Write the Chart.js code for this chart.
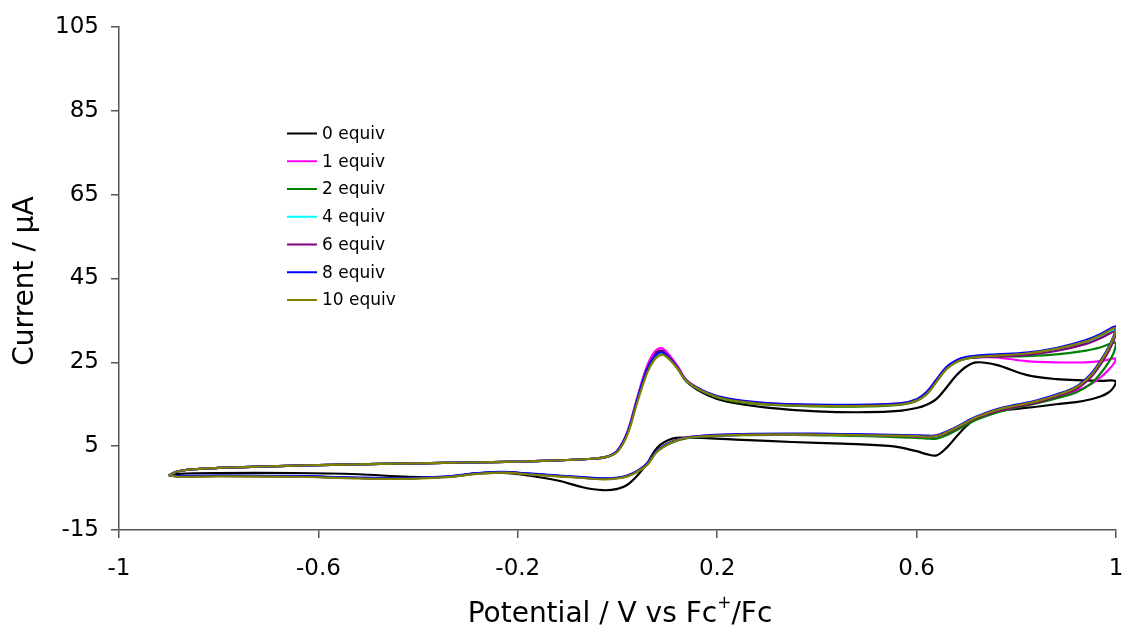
<!DOCTYPE html>
<html>
<head>
<meta charset="utf-8">
<script src="https://cdn.jsdelivr.net/npm/chart.js@4.4.0/dist/chart.umd.min.js"></script>
<style>
html,body{margin:0;padding:0;background:#fff;}
#wrap{width:1123px;height:635px;position:relative;}
</style>
</head>
<body>
<div id="wrap"><canvas id="c" width="1123" height="635"></canvas></div>
<script>
// ---- DATA ----
const seriesLabels = ['0 equiv', '1 equiv', '2 equiv', '4 equiv', '6 equiv', '8 equiv', '10 equiv'];
const seriesColors = ['#000000', '#FF00FF', '#008000', '#00FFFF', '#800080', '#0000FF', '#808000'];

const xTickValues = [-1, -0.6, -0.2, 0.2, 0.6, 1];
const yTickValues = [-15, 5, 25, 45, 65, 85, 105];

// potential (V vs Fc+/Fc): forward scan -0.9 -> 1.0, then reverse 1.0 -> -0.9
const potential = [
  -0.9, -0.885, -0.86, -0.8, -0.7, -0.55, -0.4, -0.3, -0.2, -0.1, -0.05, -0.02, 0.0, 0.02, 0.04, 0.06, 0.075, 0.088, 0.1, 0.12,
  0.14, 0.18, 0.22, 0.3, 0.4, 0.5, 0.57, 0.6, 0.62, 0.64, 0.66, 0.68, 0.7, 0.72, 0.76, 0.82, 0.88, 0.94, 0.97, 1.0,
  0.995, 0.985, 0.97, 0.95, 0.92, 0.88, 0.84, 0.8, 0.76, 0.72, 0.7, 0.68, 0.66, 0.64, 0.62, 0.6, 0.55, 0.45, 0.35, 0.25,
  0.18, 0.14, 0.11, 0.08, 0.06, 0.04, 0.02, 0.0, -0.03, -0.07, -0.12, -0.18, -0.23, -0.28, -0.34, -0.42, -0.52, -0.65, -0.8, -0.88, -0.9
];

const current0 = [
  -2.0, -1.1, -0.6, -0.2, 0.2, 0.6, 0.9, 1.1, 1.3, 1.7, 2.0, 2.5, 3.9, 8.3, 16.5, 24.0, 27.0, 27.8, 26.8, 23.8,
  20.2, 17.2, 15.6, 14.2, 13.3, 13.1, 13.5, 14.1, 14.9, 16.3, 19.0, 21.9, 24.0, 25.0, 24.4, 22.0, 21.0, 20.7, 20.6, 20.5,
  19.0, 17.8, 16.9, 16.2, 15.5, 15.0, 14.4, 13.9, 13.2, 11.6, 9.8, 7.3, 4.6, 2.8, 3.1, 3.8, 5.0, 5.6, 6.0, 6.5,
  6.9, 7.0, 6.8, 4.7, 1.0, -2.0, -4.2, -5.2, -5.5, -4.8, -3.2, -2.0, -1.4, -1.5, -2.3, -2.3, -1.7, -1.4, -1.4, -1.6, -2.0
];
const current1 = [
  -2.0, -1.1, -0.6, -0.2, 0.2, 0.6, 0.9, 1.1, 1.3, 1.7, 2.0, 2.5, 4.0, 8.5, 16.8, 24.3, 27.6, 28.4, 27.3, 24.2,
  20.6, 17.7, 16.3, 15.2, 14.8, 14.8, 15.2, 16.1, 17.8, 20.8, 23.8, 25.3, 26.0, 26.2, 26.2, 25.3, 25.0, 25.0, 25.3, 25.9,
  24.6, 23.2, 21.5, 19.8, 18.2, 16.9, 15.6, 14.6, 13.5, 11.8, 10.6, 9.3, 8.2, 7.4, 7.3, 7.4, 7.6, 7.8, 7.9, 7.8,
  7.5, 7.1, 6.1, 4.0, 0.9, -0.9, -2.0, -2.6, -2.8, -2.5, -2.1, -1.6, -1.2, -1.5, -2.3, -2.7, -2.6, -2.2, -2.1, -2.2, -2.0
];
const current2 = [
  -2.0, -1.1, -0.6, -0.2, 0.2, 0.6, 0.9, 1.1, 1.3, 1.7, 2.0, 2.5, 3.8, 8.0, 16.0, 23.2, 26.1, 27.0, 26.2, 23.6,
  20.3, 17.5, 16.0, 14.9, 14.5, 14.5, 14.9, 15.8, 17.4, 20.4, 23.5, 25.1, 25.9, 26.2, 26.4, 26.5, 26.9, 27.8, 28.6, 29.7,
  27.2, 25.0, 22.5, 19.9, 17.8, 16.4, 15.2, 14.2, 13.0, 11.3, 10.1, 8.8, 7.6, 6.8, 6.8, 7.0, 7.2, 7.5, 7.7, 7.6,
  7.3, 6.9, 5.9, 3.8, 0.7, -1.0, -2.1, -2.6, -2.8, -2.5, -2.1, -1.6, -1.2, -1.5, -2.3, -2.7, -2.6, -2.2, -2.1, -2.2, -2.0
];
const current4 = [
  -2.0, -1.1, -0.6, -0.2, 0.2, 0.6, 0.9, 1.1, 1.3, 1.7, 2.0, 2.5, 3.9, 8.2, 16.2, 23.5, 26.4, 27.2, 26.4, 23.7,
  20.3, 17.6, 16.2, 15.1, 14.7, 14.7, 15.1, 16.0, 17.6, 20.6, 23.6, 25.2, 26.0, 26.3, 26.6, 27.0, 28.0, 29.8, 31.2, 32.8,
  30.5, 28.0, 25.0, 21.8, 18.8, 17.0, 15.6, 14.6, 13.5, 11.8, 10.6, 9.3, 8.2, 7.4, 7.3, 7.4, 7.5, 7.7, 7.8, 7.7,
  7.4, 7.0, 6.0, 3.9, 0.8, -1.0, -2.1, -2.6, -2.8, -2.5, -2.1, -1.6, -1.2, -1.5, -2.3, -2.7, -2.6, -2.2, -2.1, -2.2, -2.0
];
const current6 = [
  -2.0, -1.1, -0.6, -0.2, 0.2, 0.6, 0.9, 1.1, 1.3, 1.7, 2.0, 2.5, 3.9, 8.2, 16.2, 23.6, 26.7, 27.6, 26.7, 23.8,
  20.4, 17.6, 16.2, 15.1, 14.7, 14.7, 15.1, 16.0, 17.6, 20.6, 23.6, 25.2, 26.0, 26.2, 26.4, 26.8, 27.7, 29.4, 30.8, 32.4,
  30.1, 27.6, 24.7, 21.5, 18.6, 16.8, 15.4, 14.4, 13.3, 11.7, 10.5, 9.2, 8.1, 7.3, 7.2, 7.3, 7.5, 7.7, 7.8, 7.7,
  7.4, 7.0, 6.0, 3.9, 0.8, -1.0, -2.1, -2.6, -2.8, -2.5, -2.1, -1.6, -1.2, -1.5, -2.3, -2.7, -2.6, -2.2, -2.1, -2.2, -2.0
];
const current8 = [
  -2.0, -1.1, -0.6, -0.2, 0.2, 0.6, 0.9, 1.1, 1.3, 1.7, 2.0, 2.5, 3.9, 8.2, 16.2, 23.5, 26.5, 27.4, 26.5, 23.8,
  20.5, 17.8, 16.4, 15.3, 14.9, 14.9, 15.3, 16.2, 17.9, 20.9, 23.9, 25.5, 26.3, 26.6, 26.9, 27.3, 28.4, 30.3, 31.8, 33.6,
  31.2, 28.6, 25.6, 22.3, 19.2, 17.3, 15.9, 14.9, 13.8, 12.1, 10.9, 9.6, 8.5, 7.6, 7.5, 7.6, 7.7, 7.9, 8.0, 7.9,
  7.6, 7.1, 6.1, 4.0, 0.9, -0.9, -2.0, -2.5, -2.7, -2.4, -2.0, -1.5, -1.1, -1.4, -2.2, -2.6, -2.5, -2.1, -2.0, -2.1, -2.0
];
const current10 = [
  -2.0, -1.1, -0.6, -0.2, 0.2, 0.6, 0.9, 1.1, 1.3, 1.7, 2.0, 2.5, 3.7, 7.8, 15.6, 22.6, 25.8, 26.8, 26.2, 23.6,
  20.4, 17.6, 16.1, 15.0, 14.6, 14.6, 15.0, 15.9, 17.4, 20.4, 23.4, 25.1, 25.9, 26.3, 26.6, 27.1, 28.2, 30.0, 31.5, 33.2,
  30.9, 28.3, 25.3, 22.0, 19.0, 17.1, 15.7, 14.7, 13.6, 11.9, 10.7, 9.4, 8.3, 7.4, 7.3, 7.4, 7.5, 7.7, 7.8, 7.7,
  7.4, 7.0, 6.0, 3.8, 0.6, -1.1, -2.2, -2.7, -2.9, -2.6, -2.2, -1.7, -1.3, -1.6, -2.4, -2.8, -2.7, -2.3, -2.2, -2.3, -2.0
];
const seriesCurrents = [current0, current1, current2, current4, current6, current8, current10];

// ---- CHART ----
const FONT = '"DejaVu Sans", "Liberation Sans", Arial, sans-serif';
Chart.defaults.font.family = FONT;

const datasets = seriesCurrents.map((cur, i) => ({
  label: seriesLabels[i],
  data: potential.map((x, k) => ({ x: x, y: cur[k] })),
  borderColor: seriesColors[i],
  backgroundColor: seriesColors[i],
  borderWidth: 2.2,
  pointRadius: 0,
  showLine: true,
  fill: false,
  tension: 0.35,
  order: seriesCurrents.length - i
}));

const decorPlugin = {
  id: 'decor',
  afterDraw(chart) {
    const ctx = chart.ctx;
    ctx.save();
    ctx.fillStyle = '#000';

    // Y axis title
    ctx.font = '28px ' + FONT;
    ctx.translate(33, 281);
    ctx.rotate(-Math.PI / 2);
    ctx.textAlign = 'center';
    ctx.textBaseline = 'alphabetic';
    ctx.fillText('Current / µA', 0, 0);
    ctx.setTransform(1, 0, 0, 1, 0, 0);

    // X axis title with superscript +
    const partA = 'Potential / V vs Fc';
    const sup = '+';
    const partB = '/Fc';
    ctx.font = '28px ' + FONT;
    const wA = ctx.measureText(partA).width;
    const wB = ctx.measureText(partB).width;
    ctx.font = '17px ' + FONT;
    const wS = ctx.measureText(sup).width;
    const total = wA + wS + wB;
    const cx = 620;
    const x0 = cx - total / 2;
    const base = 622;
    ctx.textAlign = 'left';
    ctx.textBaseline = 'alphabetic';
    ctx.font = '28px ' + FONT;
    ctx.fillText(partA, x0, base);
    ctx.font = '17px ' + FONT;
    ctx.fillText(sup, x0 + wA, base - 14);
    ctx.font = '28px ' + FONT;
    ctx.fillText(partB, x0 + wA + wS, base);

    // Legend
    ctx.font = '17px ' + FONT;
    ctx.textBaseline = 'middle';
    seriesLabels.forEach((lab, i) => {
      const y = 133.5 + i * 27.75;
      ctx.strokeStyle = seriesColors[i];
      ctx.lineWidth = 2;
      ctx.beginPath();
      ctx.moveTo(287, y);
      ctx.lineTo(317, y);
      ctx.stroke();
      ctx.fillStyle = '#000';
      ctx.fillText(lab, 322, y + 1);
    });
    ctx.restore();
  }
};

new Chart(document.getElementById('c'), {
  type: 'scatter',
  data: { datasets: datasets },
  options: {
    responsive: false,
    animation: false,
    devicePixelRatio: 1,
    layout: { padding: { top: 27, right: 7, left: 0, bottom: 0 } },
    plugins: { legend: { display: false }, tooltip: { enabled: false } },
    scales: {
      x: {
        type: 'linear',
        min: -1, max: 1,
        afterBuildTicks: s => { s.ticks = xTickValues.map(v => ({ value: v })); },
        afterFit: s => { s.height = 105; s.paddingLeft = 0; s.paddingRight = 0; },
        ticks: {
          color: '#000',
          font: { size: 23, family: FONT },
          padding: 17,
          maxRotation: 0,
          autoSkip: false,
          callback: v => String(Number(Number(v).toFixed(1)))
        },
        grid: { drawOnChartArea: false, drawTicks: true, tickLength: 8, color: '#555', lineWidth: 1.5 },
        border: { display: true, color: '#555', width: 1.5 }
      },
      y: {
        type: 'linear',
        min: -15, max: 105,
        afterBuildTicks: s => { s.ticks = yTickValues.map(v => ({ value: v })); },
        afterFit: s => { s.width = 119; s.paddingTop = 0; s.paddingBottom = 0; },
        ticks: {
          color: '#000',
          font: { size: 23, family: FONT },
          padding: 12,
          autoSkip: false,
          callback: v => String(v)
        },
        grid: { drawOnChartArea: false, drawTicks: true, tickLength: 8, color: '#555', lineWidth: 1.5 },
        border: { display: true, color: '#555', width: 1.5 }
      }
    }
  },
  plugins: [decorPlugin]
});
</script>
</body>
</html>
